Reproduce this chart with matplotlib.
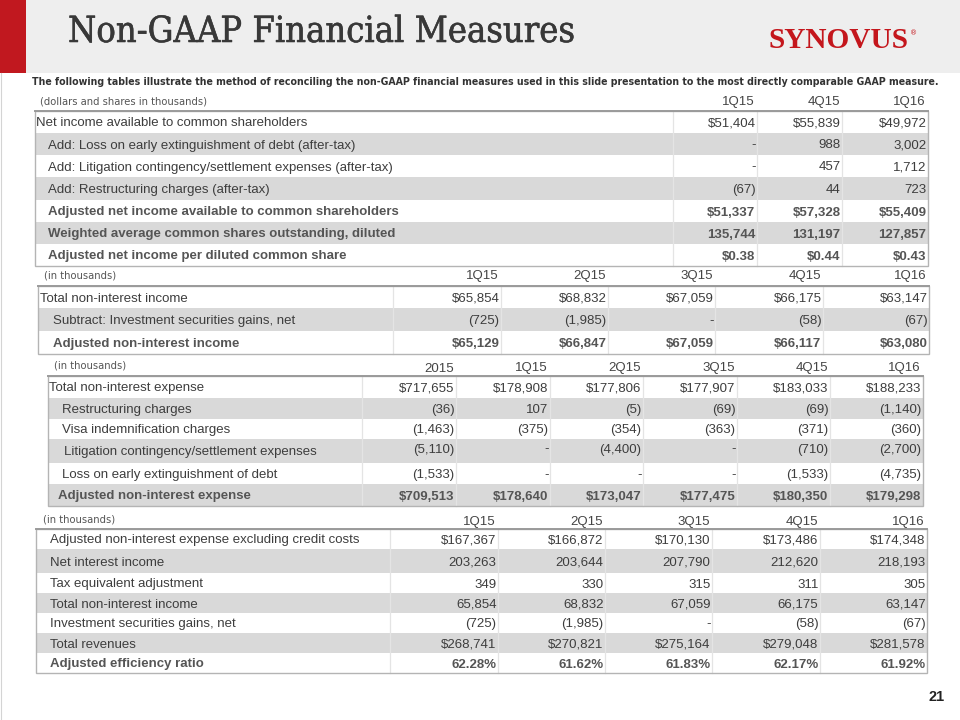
import matplotlib
matplotlib.use("Agg")
import matplotlib.pyplot as plt
import matplotlib.patheffects as pe
from matplotlib.patches import Rectangle

# ---------------- data ----------------
title_text = "Non-GAAP Financial Measures"
logo_text = "SYNOVUS"
intro_text = ("The following tables illustrate the method of reconciling the non-GAAP financial measures "
              "used in this slide presentation to the most directly comparable GAAP measure.")
page_no = "21"

t1_caption = "(dollars and shares in thousands)"
t1_headers = ["1Q15", "4Q15", "1Q16"]
t1_labels = [
    "Net income available to common shareholders",
    "Add: Loss on early extinguishment of debt (after-tax)",
    "Add: Litigation contingency/settlement expenses (after-tax)",
    "Add: Restructuring charges (after-tax)",
    "Adjusted net income available to common shareholders",
    "Weighted average common shares outstanding, diluted",
    "Adjusted net income per diluted common share",
]
t1_values = [
    ["$51,404", "$55,839", "$49,972"],
    ["-", "988", "3,002"],
    ["-", "457", "1,712"],
    ["(67)", "44", "723"],
    ["$51,337", "$57,328", "$55,409"],
    ["135,744", "131,197", "127,857"],
    ["$0.38", "$0.44", "$0.43"],
]

t2_caption = "(in thousands)"
t2_headers = ["1Q15", "2Q15", "3Q15", "4Q15", "1Q16"]
t2_labels = [
    "Total non-interest income",
    "Subtract: Investment securities gains, net",
    "Adjusted non-interest income",
]
t2_values = [
    ["$65,854", "$68,832", "$67,059", "$66,175", "$63,147"],
    ["(725)", "(1,985)", "-", "(58)", "(67)"],
    ["$65,129", "$66,847", "$67,059", "$66,117", "$63,080"],
]

t3_caption = "(in thousands)"
t3_headers = ["2015", "1Q15", "2Q15", "3Q15", "4Q15", "1Q16"]
t3_labels = [
    "Total non-interest expense",
    "Restructuring charges",
    "Visa indemnification charges",
    "Litigation contingency/settlement expenses",
    "Loss on early extinguishment of debt",
    "Adjusted non-interest expense",
]
t3_values = [
    ["$717,655", "$178,908", "$177,806", "$177,907", "$183,033", "$188,233"],
    ["(36)", "107", "(5)", "(69)", "(69)", "(1,140)"],
    ["(1,463)", "(375)", "(354)", "(363)", "(371)", "(360)"],
    ["(5,110)", "-", "(4,400)", "-", "(710)", "(2,700)"],
    ["(1,533)", "-", "-", "-", "(1,533)", "(4,735)"],
    ["$709,513", "$178,640", "$173,047", "$177,475", "$180,350", "$179,298"],
]

t4_caption = "(in thousands)"
t4_headers = ["1Q15", "2Q15", "3Q15", "4Q15", "1Q16"]
t4_labels = [
    "Adjusted non-interest expense excluding credit costs",
    "Net interest income",
    "Tax equivalent adjustment",
    "Total non-interest income",
    "Investment securities gains, net",
    "Total revenues",
    "Adjusted efficiency ratio",
]
t4_values = [
    ["$167,367", "$166,872", "$170,130", "$173,486", "$174,348"],
    ["203,263", "203,644", "207,790", "212,620", "218,193"],
    ["349", "330", "315", "311", "305"],
    ["65,854", "68,832", "67,059", "66,175", "63,147"],
    ["(725)", "(1,985)", "-", "(58)", "(67)"],
    ["$268,741", "$270,821", "$275,164", "$279,048", "$281,578"],
    ["62.28%", "61.62%", "61.83%", "62.17%", "61.92%"],
]

# ---------------- style ----------------
GRAY = "#d9d9d9"
TEXT_C = "#3d3d3d"
BOLD_C = "#555555"
SEP_C = "#e4e4e4"
BORDER_C = "#b4b4b4"
TOP_C = "#9a9a9a"
FS = 9.5
SANS = ["Liberation Sans", "DejaVu Sans"]
COND = ["DejaVu Sans"]

fig = plt.figure(figsize=(9.6, 7.2), dpi=100)
fig.patch.set_facecolor("white")
ax = fig.add_axes([0, 0, 1, 1])
ax.set_xlim(0, 960)
ax.set_ylim(720, 0)
ax.axis("off")
renderer = fig.canvas.get_renderer()


def fit_width(t, w):
    bb = t.get_window_extent(renderer=renderer)
    t.set_fontsize(t.get_fontsize() * w / bb.width)


# header band
ax.add_patch(Rectangle((0, 0), 960, 73, facecolor="#eeeeee", edgecolor="none", zorder=0))
ax.add_patch(Rectangle((0, 0), 26, 73, facecolor="#c1181f", edgecolor="none", zorder=1))
ax.plot([1, 1], [73, 720], color="#d4d4d4", lw=0.8, zorder=1)

t = ax.text(68, 32, title_text, fontsize=24, family=["DejaVu Serif"], fontstretch="condensed",
            color="#383838", ha="left", va="center",
            path_effects=[pe.withStroke(linewidth=0.4, foreground="#383838")])
fit_width(t, 508)

lg = ax.text(768, 40, logo_text, fontsize=20, family=["Liberation Serif", "DejaVu Serif"],
             weight="bold", color="#c4161c", ha="left", va="center")
fit_width(lg, 140)
ax.text(910, 33, "\u00ae", fontsize=5, color="#c4161c", ha="left", va="center")

it = ax.text(32, 82, intro_text, fontsize=9.5, family=COND, fontstretch="condensed",
             weight="bold", color="#333333", ha="left", va="center")
fit_width(it, 908)

ax.text(945, 697, page_no, fontsize=10.5, weight="bold", family=SANS, color="#222222",
        ha="right", va="center")


def draw_table(left, col_edges, row_edges, labels, label_x, values, headers, header_y,
               bold_rows, gray_rows, caption, cap_x, cap_y, value_dy=None):
    right = col_edges[-1]
    top, bottom = row_edges[0], row_edges[-1]
    for i, lab in enumerate(labels):
        y0, y1 = row_edges[i], row_edges[i + 1]
        fc = GRAY if i in gray_rows else "white"
        ax.add_patch(Rectangle((left, y0), right - left, y1 - y0, facecolor=fc,
                               edgecolor="none", zorder=1))
        yc = (y0 + y1) / 2
        bold = i in bold_rows
        kw = dict(fontsize=FS, family=SANS, weight="bold" if bold else "normal",
                  color=BOLD_C if bold else TEXT_C, va="center_baseline", zorder=4)
        ax.text(label_x[i], yc, lab, ha="left", **kw)
        dy = value_dy[i] if value_dy else 0
        for j, v in enumerate(values[i]):
            ax.text(col_edges[j + 1] - 1.5, yc + dy, v, ha="right", **kw)
    for x in col_edges[:-1]:
        ax.plot([x, x], [top, bottom], color=SEP_C, lw=0.9, zorder=2)
    ax.add_patch(Rectangle((left, top), right - left, bottom - top, fill=False,
                           edgecolor=BORDER_C, lw=1.0, zorder=3))
    ax.plot([left, right], [top, top], color=TOP_C, lw=1.4, zorder=3)
    for j, h in enumerate(headers):
        ax.text(col_edges[j + 1] - 2, header_y, h, ha="right", va="center_baseline",
                fontsize=FS, family=SANS, color="#444444")
    ax.text(cap_x, cap_y, caption, ha="left", va="center_baseline", fontsize=8.0,
            family=COND, fontstretch="condensed", color="#555555")


draw_table(35, [673, 757, 842, 928], [111, 133, 155, 177, 200, 222, 244, 266],
           t1_labels, [36] + [48] * 6, t1_values, t1_headers, 101,
           bold_rows={4, 5, 6}, gray_rows={1, 3, 5},
           caption=t1_caption, cap_x=40, cap_y=100)

draw_table(38, [393, 501, 608, 715, 823, 929], [286, 308, 331, 354],
           t2_labels, [40, 53, 53], t2_values, t2_headers, 274,
           bold_rows={2}, gray_rows={1},
           caption=t2_caption, cap_x=44, cap_y=274)

draw_table(48, [362, 456, 550, 643, 737, 830, 923], [376, 398, 419, 439, 463, 484, 506],
           t3_labels, [49, 62, 62, 64, 62, 58], t3_values, t3_headers, 367,
           bold_rows={5}, gray_rows={1, 3, 5},
           caption=t3_caption, cap_x=54, cap_y=365,
           value_dy=[0, 0, 0, -3, 0, 0])

draw_table(36, [390, 498, 605, 712, 820, 927], [529, 549, 573, 593, 613, 633, 653, 673],
           t4_labels, [50] * 7, t4_values, t4_headers, 520,
           bold_rows={6}, gray_rows={1, 3, 5},
           caption=t4_caption, cap_x=43, cap_y=518)

fig.savefig("out.png", dpi=100, facecolor="white")
